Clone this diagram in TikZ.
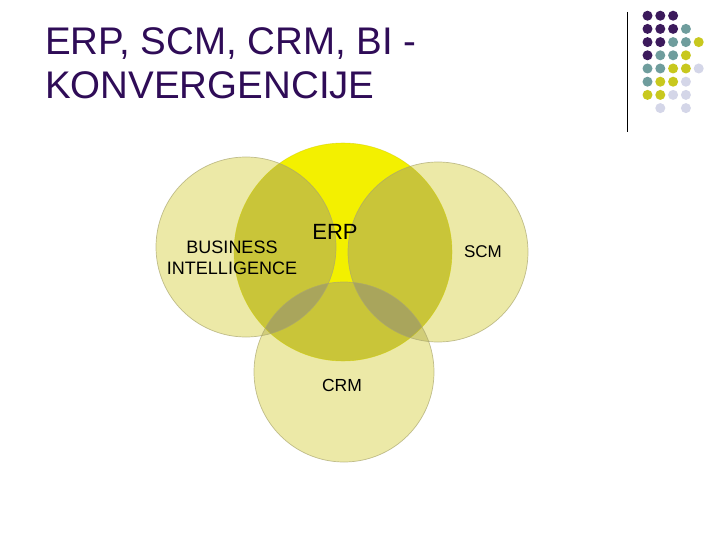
\documentclass[tikz,border=0pt]{standalone}
\usepackage{fontspec}
\setmainfont{Liberation Sans}
\definecolor{titlepurple}{RGB}{47,12,87}
\definecolor{erpyellow}{RGB}{243,240,0}
\definecolor{outerfill}{RGB}{213,208,62}
\definecolor{overlaygray}{RGB}{137,133,128}
\definecolor{rimcol}{RGB}{170,166,110}
\definecolor{dotP}{RGB}{60,26,92}
\definecolor{dotT}{RGB}{111,157,157}
\definecolor{dotY}{RGB}{200,200,30}
\definecolor{dotL}{RGB}{212,214,232}
\tikzset{
  outer/.style={fill=outerfill, fill opacity=0.45},
  rim/.style={draw=rimcol, draw opacity=0.7, line width=0.7pt},
  shade/.style={fill=overlaygray, fill opacity=0.3},
  lightshade/.style={fill=overlaygray, fill opacity=0.18},
  dot/.style={circle, inner sep=0pt, minimum size=10pt},
  label/.style={text=black, inner sep=0pt, anchor=base}
}
\def\nn{N}
\begin{document}
\begin{tikzpicture}[x=1pt,y=-1pt]
\useasboundingbox (0,0) rectangle (720,540);
\fill[white] (0,0) rectangle (720,540);
% centres
\coordinate (cE) at (343,252);
\coordinate (cB) at (246,247);
\coordinate (cS) at (438,252);
\coordinate (cC) at (344,372);
% ERP base
\fill[erpyellow] (cE) circle (109pt);
% outer circles, semi-transparent
\fill[outer] (cB) circle (90pt);
\fill[outer] (cS) circle (90pt);
\fill[outer] (cC) circle (90pt);
% darkening inside ERP
\begin{scope}
  \clip (cE) circle (109pt);
  \fill[shade] (cB) circle (90pt);
  \fill[shade] (cS) circle (90pt);
  \fill[shade] (cC) circle (90pt);
\end{scope}
% darkening of outer overlaps
\begin{scope}
  \clip (cC) circle (90pt);
  \fill[lightshade] (cB) circle (90pt);
  \fill[lightshade] (cS) circle (90pt);
\end{scope}
% rims
\draw[draw=erpyellow!85!black, draw opacity=0.5, line width=0.6pt] (cE) circle (109pt);
\draw[rim] (cB) circle (90pt);
\draw[rim] (cS) circle (90pt);
\draw[rim] (cC) circle (90pt);
% labels
\node[label, font=\fontsize{18}{20}\selectfont] (bi1) at (232,253) {BUSINESS};
\node[label, font=\fontsize{18}{20}\selectfont] (bi2) at (232,274) {INTELLIGENCE};
\node[label, font=\fontsize{22}{26}\selectfont] (erp) at (335,240) {ERP};
\node[label, font=\fontsize{17}{20}\selectfont] (scm) at (483,257) {SCM};
\node[label, font=\fontsize{17.5}{20}\selectfont] (crm) at (342,391) {CRM};
% title
\node[anchor=base west, inner sep=0pt, text=titlepurple, font=\fontsize{38.5}{44}\selectfont] (t1) at (45,55) {ERP, SCM, CRM, BI -};
\node[anchor=base west, inner sep=0pt, text=titlepurple, font=\fontsize{38.5}{44}\selectfont] (t2) at (45,99) {KONVERGENCIJE};
% decoration
\coordinate (vt) at (627,12);
\coordinate (vb) at (627,132);
\draw[black, line width=0.9pt] (vt) -- (vb);
\foreach \row/\cols in {0/{P,P,P,N,N},1/{P,P,P,T,N},2/{P,P,T,T,Y},3/{P,T,T,Y,N},4/{T,T,Y,Y,L},5/{T,Y,Y,L,N},6/{Y,Y,L,L,N},7/{N,L,N,L,N}}{
  \foreach \c [count=\i from 0] in \cols {
    \ifx\c\nn\else
      \node[dot, fill=dot\c] (d\row\i) at ({647.5+12.8*\i},{15.7+13.2*\row}) {};
    \fi
  }
}
\end{tikzpicture}
\end{document}
